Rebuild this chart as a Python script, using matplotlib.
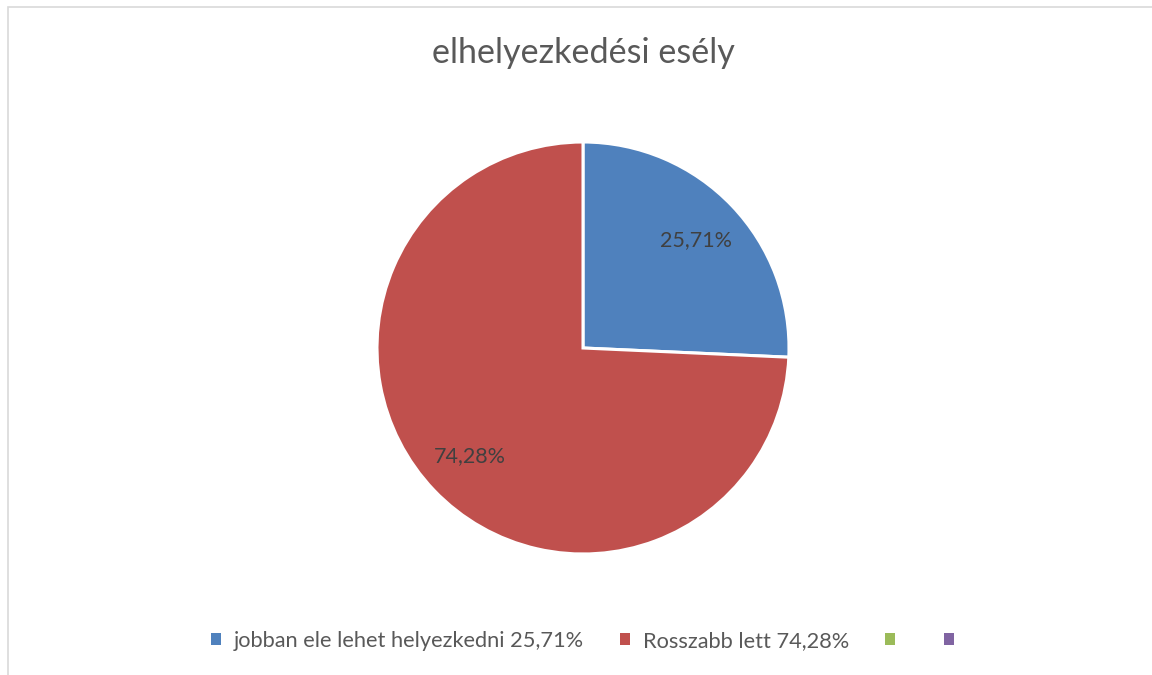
import matplotlib
matplotlib.use("Agg")
import matplotlib.pyplot as plt
from matplotlib.patches import Patch, Rectangle

plt.rcParams['font.family'] = ['Lato', 'DejaVu Sans']

title = "elhelyezkedési esély"
categories = ["jobban ele lehet helyezkedni 25,71%", "Rosszabb lett 74,28%", "", ""]
values = [25.71, 74.28, 0.0, 0.0]
colors = ["#4F81BD", "#C0504D", "#9BBB59", "#8064A2"]

W, H = 1152, 675
fig = plt.figure(figsize=(W / 100, H / 100), dpi=100)
fig.patch.set_facecolor("white")

# chart border (extends beyond right/bottom edges like the reference)
fig.patches.append(Rectangle((7.5 / W, -0.1), 1.2, 1 - 7.5 / H + 0.1,
                             transform=fig.transFigure, fill=False,
                             edgecolor="#D9D9D9", linewidth=1.2))

cx, cy, r = 583, 348, 206
ax = fig.add_axes([(cx - r) / W, (H - cy - r) / H, 2 * r / W, 2 * r / H])

pv = [v for v in values if v > 0]
pc = [c for v, c in zip(values, colors) if v > 0]

def fmt(p):
    v = p * sum(pv) / 100
    return f"{v:.2f}%".replace(".", ",")

wedges, texts, autotexts = ax.pie(
    pv, colors=pc, startangle=90, counterclock=False, radius=1,
    autopct=fmt, pctdistance=0.76,
    wedgeprops=dict(edgecolor="white", linewidth=2.2),
    textprops=dict(color="#404040", fontsize=15.5))
ax.set_xlim(-1, 1)
ax.set_ylim(-1, 1)
ax.set_aspect("equal")
ax.axis("off")

fig.text(583.5 / W, 1 - 53 / H, title, ha="center", va="center",
         fontsize=24.6, color="#595959")

handles = [Patch(facecolor=c, edgecolor="none") for c in colors]
leg = fig.legend(handles, categories, loc="center", bbox_to_anchor=(589 / W, 1 - 641 / H),
                 ncol=4, frameon=False, fontsize=15.7, handlelength=0.45, handleheight=0.45,
                 handletextpad=0.6, columnspacing=1.65, labelcolor="#595959")

fig.savefig("out.png", dpi=100, facecolor="white")
